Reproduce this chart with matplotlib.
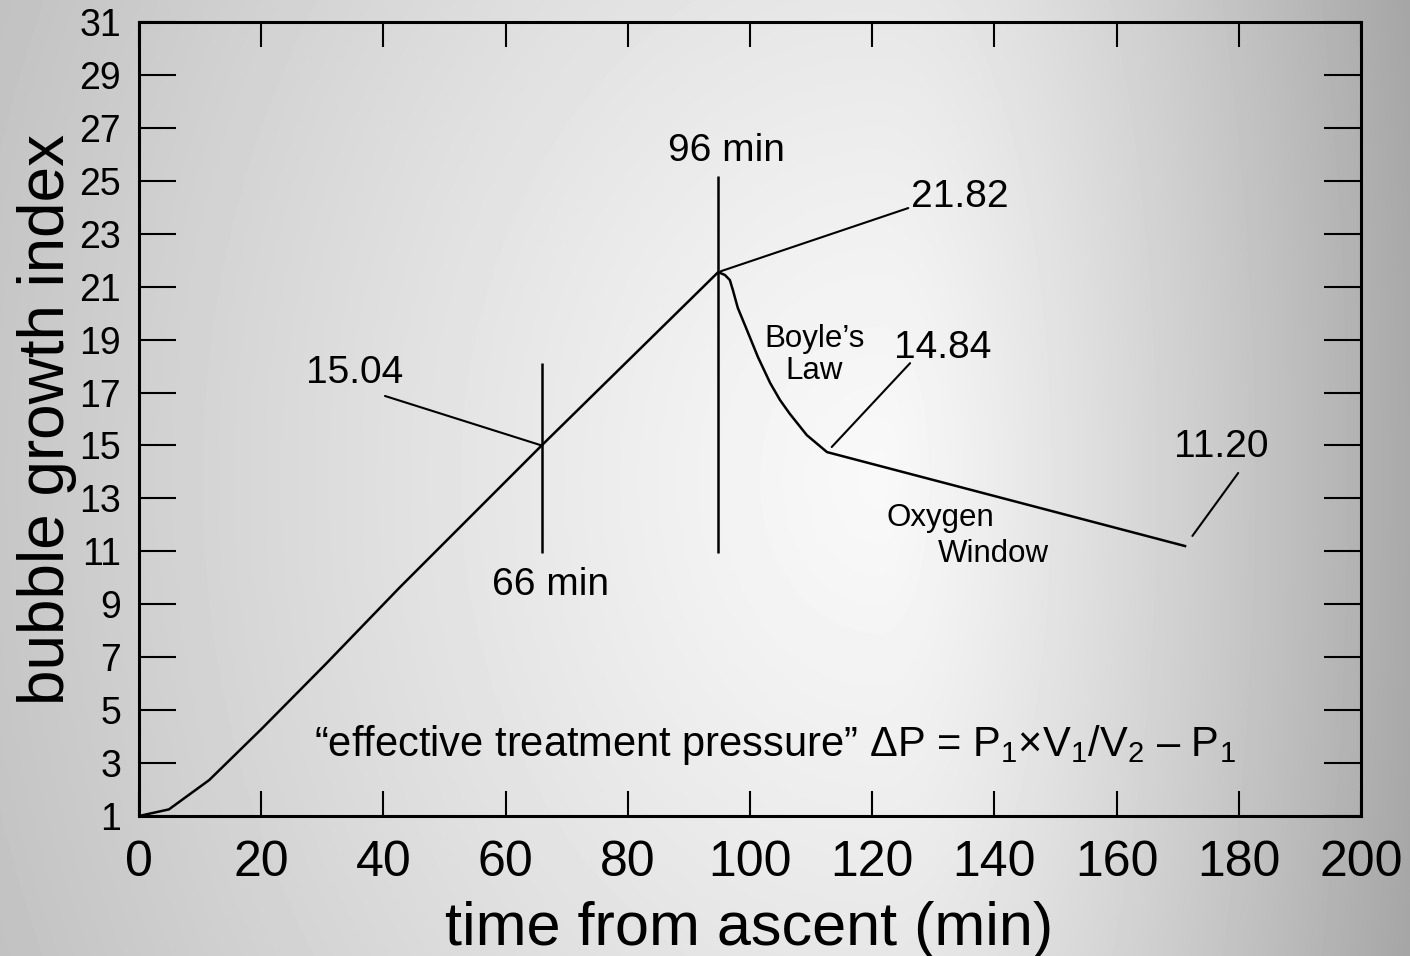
import numpy as np
import matplotlib
matplotlib.use('Agg')
from matplotlib import pyplot as plt

# bubble growth curve
time_min = [0, 4.9, 11.5, 20.1, 30.6, 42.6, 65.9, 94.8, 95.9, 96.7, 97.2,
            98.0, 99.5, 101.3, 103.3, 104.9, 106.5, 109.3, 112.6, 171.2]
bubble_idx = [1.0, 1.25, 2.36, 4.3, 6.75, 9.62, 15.0, 21.55, 21.44, 21.25,
              20.87, 20.2, 19.36, 18.34, 17.36, 16.72, 16.2, 15.39, 14.75, 11.2]

x_ticks = list(range(0, 201, 20))
y_ticks = list(range(1, 32, 2))

# callouts: value text, index of curve point it points at
callout_values = ['15.04', '21.82', '14.84', '11.20']
callout_index = [6, 7, 18, 19]
# time marks (vertical lines) at these curve points
mark_labels = ['66 min', '96 min']
mark_index = [6, 7]

plt.rcParams['font.family'] = ['Liberation Sans', 'DejaVu Sans']
plt.rcParams['mathtext.fontset'] = 'custom'
plt.rcParams['mathtext.rm'] = 'Liberation Sans'
plt.rcParams['mathtext.it'] = 'Liberation Sans:italic'
plt.rcParams['mathtext.bf'] = 'Liberation Sans:bold'

W, H = 1410, 956
fig = plt.figure(figsize=(W / 100, H / 100), dpi=100)

# grey radial background, light in the middle
bg = fig.add_axes([0, 0, 1, 1], zorder=0)
yy, xx = np.mgrid[0:H, 0:W]
cx, cy = 880, 480
dx = xx - cx
kx = np.where(dx < 0, 0.21 / cx, 0.31 / (W - cx))
r = np.sqrt((kx * dx) ** 2 + (0.09 / 480 * (yy - cy)) ** 2)
shade = 0.975 - 0.3 * (r / 0.3) ** 1.2
bg.imshow(shade, cmap='gray', vmin=0, vmax=1, aspect='auto', interpolation='bilinear')
bg.set_axis_off()

ax = fig.add_axes([139 / W, 1 - 816 / H, 1222 / W, 794 / H], zorder=1)
ax.patch.set_alpha(0)

ax.plot(time_min, bubble_idx, color='black', lw=1.8)

ax.set_xlim(0, 200)
ax.set_ylim(1, 31)
ax.set_xticks(x_ticks)
ax.set_yticks(y_ticks)
ax.tick_params(axis='y', direction='in', length=26.5, width=1.5, labelsize=27,
               pad=13, left=True, right=True)
ax.tick_params(axis='x', direction='in', length=18, width=1.5, labelsize=36,
               pad=17, top=True, bottom=True)
for s in ax.spines.values():
    s.set_linewidth(2.2)

ax.set_xlabel('time from ascent (min)', fontsize=44, va='baseline')
ax.xaxis.set_label_coords(0.499, -0.162)
ax.set_ylabel('bubble growth index', fontsize=46)
ax.yaxis.set_label_coords(-0.051, 0.5)

# vertical time marks
mark_span = [(10.94, 18.11), (10.94, 25.2)]
mark_text = [(67.3, 9.73), (96.2, 26.12)]
for lab, i, (y0, y1), pos in zip(mark_labels, mark_index, mark_span, mark_text):
    ax.vlines(time_min[i], y0, y1, color='black', lw=1.8)
    ax.text(pos[0], pos[1], lab, fontsize=28, ha='center', va='center')

# value callouts with leader lines
label_pos = [(35.35, 17.74), (134.4, 24.39), (131.6, 18.68), (177.2, 14.94)]
leader_end = [(40.26, 16.87), (125.9, 23.97), (126.2, 18.11), (179.9, 13.96)]
leader_gap = [0, 2, 5, 9]
for val, i, pos, end, gap in zip(callout_values, callout_index, label_pos,
                                 leader_end, leader_gap):
    ax.annotate('', xy=(time_min[i], bubble_idx[i]), xytext=end,
                arrowprops=dict(arrowstyle='-', color='black', lw=1.5,
                                shrinkA=0, shrinkB=gap))
    ax.text(pos[0], pos[1], val, fontsize=28, ha='center', va='center')

ax.text(110.5, 18.42, 'Boyle\u2019s\nLaw', fontsize=22.5, ha='center',
        va='center', linespacing=1.1)
ax.text(131.1, 12.26, 'Oxygen', fontsize=22.5, ha='center', va='center')
ax.text(139.9, 10.9, 'Window', fontsize=22.5, ha='center', va='center')

ax.text(104.1, 3.68,
        '\u201ceffective treatment pressure\u201d \u0394P = P$_1$\u00d7V$_1$/V$_2$ \u2013 P$_1$',
        fontsize=30, ha='center', va='center')

fig.savefig('out.png', dpi=100)
